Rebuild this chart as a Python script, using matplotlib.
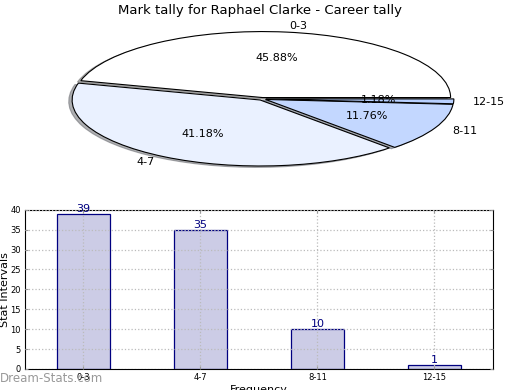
import matplotlib
matplotlib.use("Agg")
import matplotlib.pyplot as plt

categories = ["0-3", "4-7", "8-11", "12-15"]
counts = [39, 35, 10, 1]
pie_colors = ["#FFFFFF", "#EAF1FF", "#C3D7FF", "#B8D0FF"]
title = "Mark tally for Raphael Clarke - Career tally"

fig = plt.figure(figsize=(5.2, 3.9), dpi=100)

# Pie
axp = fig.add_axes([0.052, 0.535, 0.904, 0.423])
wedges, texts, autotexts = axp.pie(
    counts, labels=categories, colors=pie_colors, autopct="%1.2f%%",
    explode=[0.02] * len(counts), shadow={"ox": -0.013, "oy": -0.015, "shade": 0.6},
    startangle=0,
    wedgeprops=dict(edgecolor="black", linewidth=0.8),
    textprops=dict(fontsize=8),
)
axp.set_aspect("auto")
axp.set_xlim(-1.25, 1.25)
axp.set_ylim(-1.25, 1.25)
fig.text(0.5, 0.972, title, ha="center", va="center", fontsize=9.5)

# Bars
axb = fig.add_axes([0.048, 0.054, 0.9, 0.408])
x = list(range(len(categories)))
bars = axb.bar(x, counts, width=0.45, color="#CCCCE6", edgecolor="#000080", linewidth=0.9, zorder=1)
for xi, c in zip(x, counts):
    axb.text(xi, c, str(c), ha="center", va="bottom", color="#000080", fontsize=8)
axb.set_xlim(-0.5, 3.5)
axb.set_ylim(0, 40)
axb.set_xticks(x)
axb.set_xticklabels(categories)
axb.set_yticks(range(0, 41, 5))
axb.tick_params(labelsize=6, direction="in", length=2, pad=3, color="#999999",
                right=True, top=True)
axb.grid(True, linestyle=":", color="#bbbbbb", linewidth=0.9, zorder=3)
axb.set_axisbelow(False)
axb.set_ylabel("Stat Intervals", fontsize=8)
axb.yaxis.set_label_coords(-0.031, 0.5)
axb.set_xlabel("Frequency", fontsize=8, labelpad=2)

fig.text(0.0, 0.012, "Dream-Stats.com", color="#999999", fontsize=8.5, ha="left", va="bottom")

fig.savefig("out.png", dpi=100)
